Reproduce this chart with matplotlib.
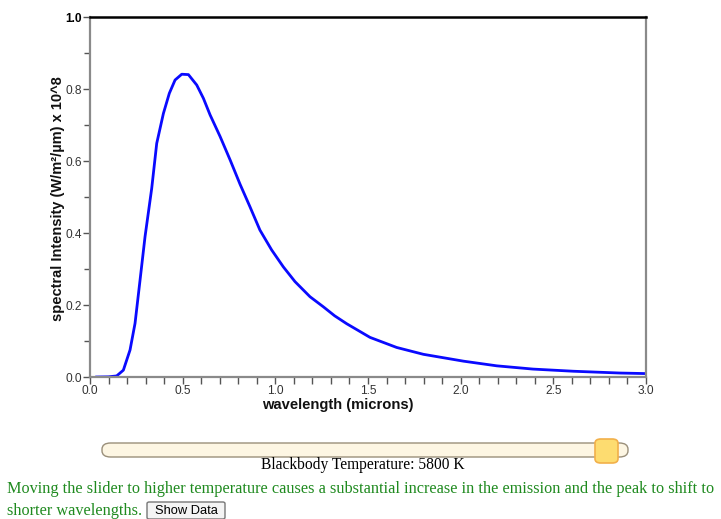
import matplotlib
matplotlib.use("Agg")
import matplotlib.pyplot as plt
from matplotlib.patches import FancyBboxPatch
from matplotlib.ticker import MultipleLocator

# Data (wavelength in microns, intensity x 10^8 W/m^2/um)
wavelength = [0.036, 0.10, 0.144, 0.18, 0.216, 0.243, 0.27, 0.297, 0.333, 0.36,
              0.396, 0.428, 0.459, 0.495, 0.531, 0.576, 0.612, 0.648, 0.702, 0.756,
              0.81, 0.863, 0.917, 0.98, 1.043, 1.106, 1.187, 1.259, 1.32, 1.385,
              1.511, 1.655, 1.799, 2.015, 2.195, 2.39, 2.608, 2.86, 3.0]
intensity = [0.0, 0.0005, 0.003, 0.019, 0.075, 0.149, 0.269, 0.39, 0.524, 0.649,
             0.732, 0.788, 0.825, 0.841, 0.840, 0.811, 0.774, 0.728, 0.668, 0.603,
             0.535, 0.473, 0.408, 0.353, 0.306, 0.265, 0.223, 0.195, 0.170, 0.148,
             0.110, 0.082, 0.063, 0.044, 0.031, 0.022, 0.016, 0.011, 0.0095]

x_major = [0.0, 0.5, 1.0, 1.5, 2.0, 2.5, 3.0]
y_major = [0.0, 0.2, 0.4, 0.6, 0.8, 1.0]
x_title = "wavelength (microns)"
y_title = "spectral Intensity (W/m\u00b2/\u00b5m) x 10^8"
temperature_label = "Blackbody Temperature: 5800 K"
caption_1 = "Moving the slider to higher temperature causes a substantial increase in the emission and the peak to shift to"
caption_2 = "shorter wavelengths."
button_label = "Show Data"

W, H = 721, 519
fig = plt.figure(figsize=(W / 100, H / 100), dpi=100)
ax = fig.add_axes([90 / W, 1 - 377 / H, (646 - 90) / W, (377 - 17) / H])

ax.plot(wavelength, intensity, color="#0a0aff", lw=2.0, solid_joinstyle="round")
ax.set_xlim(0, 3.0)
ax.set_ylim(0, 1.0)

axis_gray = "#8a8a8a"
for side in ["left", "right", "bottom"]:
    ax.spines[side].set_color(axis_gray)
    ax.spines[side].set_linewidth(1.6)
ax.spines["top"].set_color("black")
ax.spines["top"].set_linewidth(1.8)

ax.set_xticks(x_major)
ax.set_xticklabels([f"{v:.1f}" for v in x_major])
ax.set_yticks(y_major)
ax.set_yticklabels([f"{v:.1f}" for v in y_major])
ax.xaxis.set_minor_locator(MultipleLocator(0.1))
ax.yaxis.set_minor_locator(MultipleLocator(0.1))
ax.tick_params(axis="both", which="both", direction="out", color="#555555",
               width=1.0, labelsize=8.6, labelcolor="#333333")
ax.tick_params(axis="x", which="both", length=5, pad=1)
ax.tick_params(axis="y", which="major", length=5, pad=1)
ax.tick_params(axis="y", which="minor", length=4)
for lab in ax.get_xticklabels() + ax.get_yticklabels():
    lab.set_fontfamily("Liberation Sans")
ax.get_yticklabels()[-1].set_fontweight("bold")
ax.get_yticklabels()[-1].set_color("black")

fig.text(338 / W, 1 - 405 / H, x_title, ha="center", va="center", fontsize=10.6,
         fontweight="bold", family="Liberation Sans", color="#111111")
fig.text(58 / W, 1 - 199 / H, y_title, ha="center", va="center", rotation=90,
         fontsize=10.5, fontweight="bold", family="Liberation Sans", color="#111111")

# Slider track
track = FancyBboxPatch((102 / W, 1 - 457 / H), (628 - 102) / W, 14 / H,
                       boxstyle="round,pad=0,rounding_size=0.012",
                       transform=fig.transFigure, facecolor="#fdf6e3",
                       edgecolor="#9a8f7a", lw=1.0)
fig.patches.append(track)
# Slider handle
handle = FancyBboxPatch((595 / W, 1 - 463 / H), 23 / W, 24 / H,
                        boxstyle="round,pad=0,rounding_size=0.008",
                        transform=fig.transFigure, facecolor="#fddc70",
                        edgecolor="#f2b04a", lw=1.2)
fig.patches.append(handle)

fig.text(363 / W, 1 - 465 / H, temperature_label, ha="center", va="center",
         family="Liberation Serif", fontsize=11.2, color="black")
fig.text(7 / W, 1 - 489 / H, caption_1, ha="left", va="center",
         family="Liberation Serif", fontsize=11.7, color="#1f8a1f")
fig.text(7 / W, 1 - 511 / H, caption_2, ha="left", va="center",
         family="Liberation Serif", fontsize=11.7, color="#1f8a1f")

# Button
button = FancyBboxPatch((147 / W, 1 - 519 / H), 78 / W, 17 / H,
                        boxstyle="round,pad=0,rounding_size=0.003",
                        transform=fig.transFigure, facecolor="#f4f4f4",
                        edgecolor="#777777", lw=1.0)
fig.patches.append(button)
fig.text(186 / W, 1 - 511 / H, button_label, ha="center", va="center",
         family="Liberation Sans", fontsize=9.3, color="black")

fig.savefig("out.png", dpi=100)
